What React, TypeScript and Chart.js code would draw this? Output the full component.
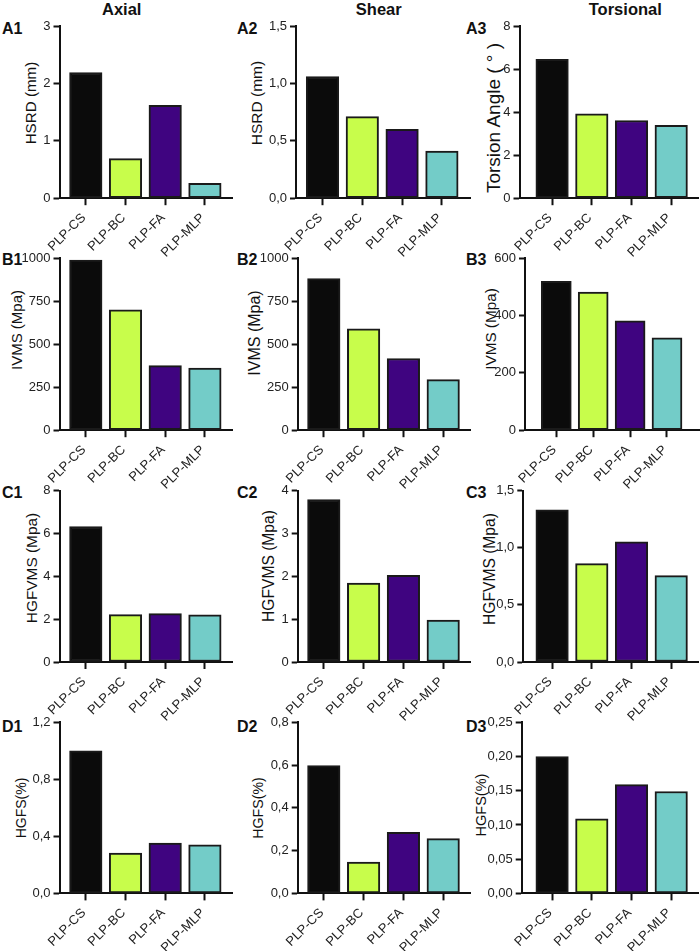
import React, { useEffect, useRef } from 'react';
import { Chart, registerables } from 'chart.js';

Chart.register(...registerables);

const FONT = "'Liberation Sans', Arial, Helvetica, sans-serif";

// ---------- data ----------
const categories = ['PLP-CS', 'PLP-BC', 'PLP-FA', 'PLP-MLP'];
const barColors = ['#0b0b0b', '#c8fd4b', '#3f0480', '#73ccc8'];
const columnTitles = ['Axial', 'Shear', 'Torsional'];

const a1Values = [2.19, 0.69, 1.62, 0.26];
const a2Values = [1.06, 0.71, 0.6, 0.41];
const a3Values = [6.45, 3.92, 3.61, 3.38];
const b1Values = [990, 700, 376, 362];
const b2Values = [882, 590, 417, 294];
const b3Values = [520, 482, 382, 322];
const c1Values = [6.32, 2.21, 2.26, 2.2];
const c2Values = [3.79, 1.84, 2.02, 0.98];
const c3Values = [1.33, 0.86, 1.05, 0.755];
const d1Values = [1.0, 0.283, 0.353, 0.341];
const d2Values = [0.598, 0.146, 0.286, 0.256];
const d3Values = [0.2, 0.109, 0.159, 0.149];

const a1Ticks = [0, 1, 2, 3];
const a2Ticks = [0, 0.5, 1.0, 1.5];
const a3Ticks = [0, 2, 4, 6, 8];
const b1Ticks = [0, 250, 500, 750, 1000];
const b2Ticks = [0, 250, 500, 750, 1000];
const b3Ticks = [0, 200, 400, 600];
const c1Ticks = [0, 2, 4, 6, 8];
const c2Ticks = [0, 1, 2, 3, 4];
const c3Ticks = [0, 0.5, 1.0, 1.5];
const d1Ticks = [0, 0.4, 0.8, 1.2];
const d2Ticks = [0, 0.2, 0.4, 0.6, 0.8];
const d3Ticks = [0, 0.05, 0.1, 0.15, 0.2, 0.25];

// ---------- layout ----------
const rowCanvasTop = [0, 232, 464, 696];
const rowPlotTop = [26, 258.3, 490.5, 722.4];
const rowPlotBottom = [198.2, 430.2, 662, 893.4];
const colCanvasLeft = [0, 236, 472];
const colCanvasWidth = [236, 236, 228];
const rowLabelTop = [21, 252, 485, 719];
const colLabelLeft = [2, 237, 466];
const colTitleCenter = [121.7, 378.8, 625.3];

type PanelDef = {
  label: string;
  row: number;
  col: number;
  values: number[];
  ticks: number[];
  decimals: number;
  title: string;
  titleX: number;
  titleDy: number;
  titleSize: number;
  axisX: number;
  plotRight: number;
  firstCenter: number;
  pitch: number;
  bar: number;
};

const panels: PanelDef[] = [
  { label: 'A1', row: 0, col: 0, values: a1Values, ticks: a1Ticks, decimals: 0, title: 'HSRD (mm)', titleX: 32, titleDy: -9.5, titleSize: 15.2, axisX: 59.5, plotRight: 232, firstCenter: 85.8, pitch: 39.7, bar: 32.5 },
  { label: 'A2', row: 0, col: 1, values: a2Values, ticks: a2Ticks, decimals: 1, title: 'HSRD (mm)', titleX: 258, titleDy: -9.5, titleSize: 15.5, axisX: 296, plotRight: 470, firstCenter: 322.5, pitch: 39.8, bar: 32.5 },
  { label: 'A3', row: 0, col: 2, values: a3Values, ticks: a3Ticks, decimals: 0, title: 'Torsion Angle ( ° )', titleX: 495, titleDy: 5.5, titleSize: 19, axisX: 519.5, plotRight: 698, firstCenter: 552.1, pitch: 39.7, bar: 32.5 },
  { label: 'B1', row: 1, col: 0, values: b1Values, ticks: b1Ticks, decimals: 0, title: 'IVMS (Mpa)', titleX: 18, titleDy: -14, titleSize: 15, axisX: 59.5, plotRight: 232, firstCenter: 85.8, pitch: 39.7, bar: 32.5 },
  { label: 'B2', row: 1, col: 1, values: b2Values, ticks: b2Ticks, decimals: 0, title: 'IVMS (Mpa)', titleX: 255.5, titleDy: -11.5, titleSize: 16, axisX: 297.7, plotRight: 470, firstCenter: 323.8, pitch: 39.8, bar: 32.5 },
  { label: 'B3', row: 1, col: 2, values: b3Values, ticks: b3Ticks, decimals: 0, title: 'IVMS (Mpa)', titleX: 491.5, titleDy: -15, titleSize: 15.3, axisX: 525, plotRight: 699, firstCenter: 556.3, pitch: 36.9, bar: 30 },
  { label: 'C1', row: 2, col: 0, values: c1Values, ticks: c1Ticks, decimals: 0, title: 'HGFVMS (Mpa)', titleX: 33, titleDy: -8, titleSize: 15.4, axisX: 59.5, plotRight: 232, firstCenter: 85.8, pitch: 39.7, bar: 32.5 },
  { label: 'C2', row: 2, col: 1, values: c2Values, ticks: c2Ticks, decimals: 0, title: 'HGFVMS (Mpa)', titleX: 270, titleDy: -10, titleSize: 15.6, axisX: 297.7, plotRight: 470, firstCenter: 323.8, pitch: 39.8, bar: 32.5 },
  { label: 'C3', row: 2, col: 2, values: c3Values, ticks: c3Ticks, decimals: 1, title: 'HGFVMS (Mpa)', titleX: 490.5, titleDy: -7, titleSize: 15.6, axisX: 523.3, plotRight: 698, firstCenter: 552.1, pitch: 39.7, bar: 32.5 },
  { label: 'D1', row: 3, col: 0, values: d1Values, ticks: d1Ticks, decimals: 1, title: 'HGFS(%)', titleX: 21.5, titleDy: 0, titleSize: 14, axisX: 59.5, plotRight: 232, firstCenter: 85.8, pitch: 39.7, bar: 32.5 },
  { label: 'D2', row: 3, col: 1, values: d2Values, ticks: d2Ticks, decimals: 1, title: 'HGFS(%)', titleX: 259, titleDy: 0, titleSize: 14.2, axisX: 297.7, plotRight: 470, firstCenter: 323.8, pitch: 39.8, bar: 32.5 },
  { label: 'D3', row: 3, col: 2, values: d3Values, ticks: d3Ticks, decimals: 2, title: 'HGFS(%)', titleX: 481.5, titleDy: -3, titleSize: 14.5, axisX: 521.7, plotRight: 698, firstCenter: 552.1, pitch: 39.7, bar: 32.5 },
];

const fmt = (v: number, d: number) => v.toFixed(d).replace('.', ',');

function Panel({ p }: { p: PanelDef }) {
  const ref = useRef<HTMLCanvasElement | null>(null);
  const cl = colCanvasLeft[p.col];
  const cw = colCanvasWidth[p.col];
  const ct = rowCanvasTop[p.row];
  const ch = p.row === 3 ? 951 - ct : 262;
  const plotTop = rowPlotTop[p.row];
  const plotBottom = rowPlotBottom[p.row];

  useEffect(() => {
    if (!ref.current) return;
    const last = categories.length - 1;
    const xMin = -(p.firstCenter - p.axisX) / p.pitch;
    const xMax = last + (p.plotRight - (p.firstCenter + last * p.pitch)) / p.pitch;
    const yMax = p.ticks[p.ticks.length - 1];

    const chart = new Chart(ref.current, {
      type: 'bar',
      data: {
        datasets: [
          {
            data: p.values.map((v, i) => ({ x: i, y: v })),
            backgroundColor: barColors,
            borderColor: '#1a1a1a',
            borderWidth: 2,
            borderSkipped: false,
            barThickness: p.bar,
          } as any,
        ],
      },
      options: {
        animation: false,
        responsive: true,
        maintainAspectRatio: false,
        events: [],
        layout: {
          padding: { left: 0, bottom: 0, top: plotTop - ct, right: cl + cw - p.plotRight },
        },
        plugins: { legend: { display: false }, tooltip: { enabled: false }, title: { display: false } },
        scales: {
          x: {
            type: 'linear',
            offset: false,
            min: xMin,
            max: xMax,
            afterFit: (s: any) => { s.height = ct + ch - plotBottom; },
            afterBuildTicks: (s: any) => { s.ticks = categories.map((_, i) => ({ value: i })); },
            grid: { display: true, offset: false, drawOnChartArea: false, drawTicks: true, tickLength: 7, tickWidth: 2, tickColor: '#111' },
            border: { display: true, color: '#111', width: 2 },
            ticks: {
              autoSkip: false,
              maxRotation: 45,
              minRotation: 45,
              padding: 5,
              labelOffset: -2,
              color: '#222',
              font: { family: FONT, size: 13 },
              callback: (_v: any, i: number) => categories[i],
            },
          },
          y: {
            type: 'linear',
            min: 0,
            max: yMax,
            afterFit: (s: any) => { s.width = p.axisX - cl; },
            afterBuildTicks: (s: any) => { s.ticks = p.ticks.map((v) => ({ value: v })); },
            grid: { display: true, drawOnChartArea: false, drawTicks: true, tickLength: 6, tickWidth: 2, tickColor: '#111' },
            border: { display: true, color: '#111', width: 2 },
            title: { display: false },
            ticks: {
              padding: 3,
              color: '#222',
              font: { family: FONT, size: 13 },
              callback: (_v: any, i: number) => fmt(p.ticks[i], p.decimals),
            },
          },
        },
      } as any,
    });
    return () => chart.destroy();
  }, []);

  return (
    <div style={{ position: 'absolute', left: cl, top: ct, width: cw, height: ch }}>
      <canvas ref={ref} />
    </div>
  );
}

function YTitle({ p }: { p: PanelDef }) {
  const cy = (rowPlotTop[p.row] + rowPlotBottom[p.row]) / 2 + p.titleDy;
  const h = 24;
  return (
    <div
      style={{
        position: 'absolute',
        left: p.titleX - 1 - 110,
        top: cy - h / 2,
        width: 220,
        height: h,
        lineHeight: h + 'px',
        fontSize: p.titleSize,
        textAlign: 'center',
        whiteSpace: 'nowrap',
        transform: 'rotate(-90deg)',
        transformOrigin: '50% 50%',
        color: '#111',
      }}
    >
      {p.title}
    </div>
  );
}

export default function App() {
  return (
    <div
      style={{
        position: 'absolute',
        left: 0,
        top: 0,
        width: 700,
        height: 951,
        background: '#fff',
        overflow: 'hidden',
        fontFamily: FONT,
        color: '#111',
      }}
    >
      {columnTitles.map((t, i) => (
        <div
          key={t}
          style={{
            position: 'absolute',
            top: 1,
            left: colTitleCenter[i] - 60,
            width: 120,
            textAlign: 'center',
            fontWeight: 'bold',
            fontSize: 16.5,
            lineHeight: '16px',
          }}
        >
          {t}
        </div>
      ))}
      {panels.map((p) => (
        <div
          key={'l' + p.label}
          style={{
            position: 'absolute',
            top: rowLabelTop[p.row],
            left: colLabelLeft[p.col],
            fontWeight: 'bold',
            fontSize: 16,
            lineHeight: '16px',
          }}
        >
          {p.label}
        </div>
      ))}
      {panels.map((p) => (
        <YTitle key={'t' + p.label} p={p} />
      ))}
      {panels.map((p) => (
        <Panel key={p.label} p={p} />
      ))}
    </div>
  );
}
